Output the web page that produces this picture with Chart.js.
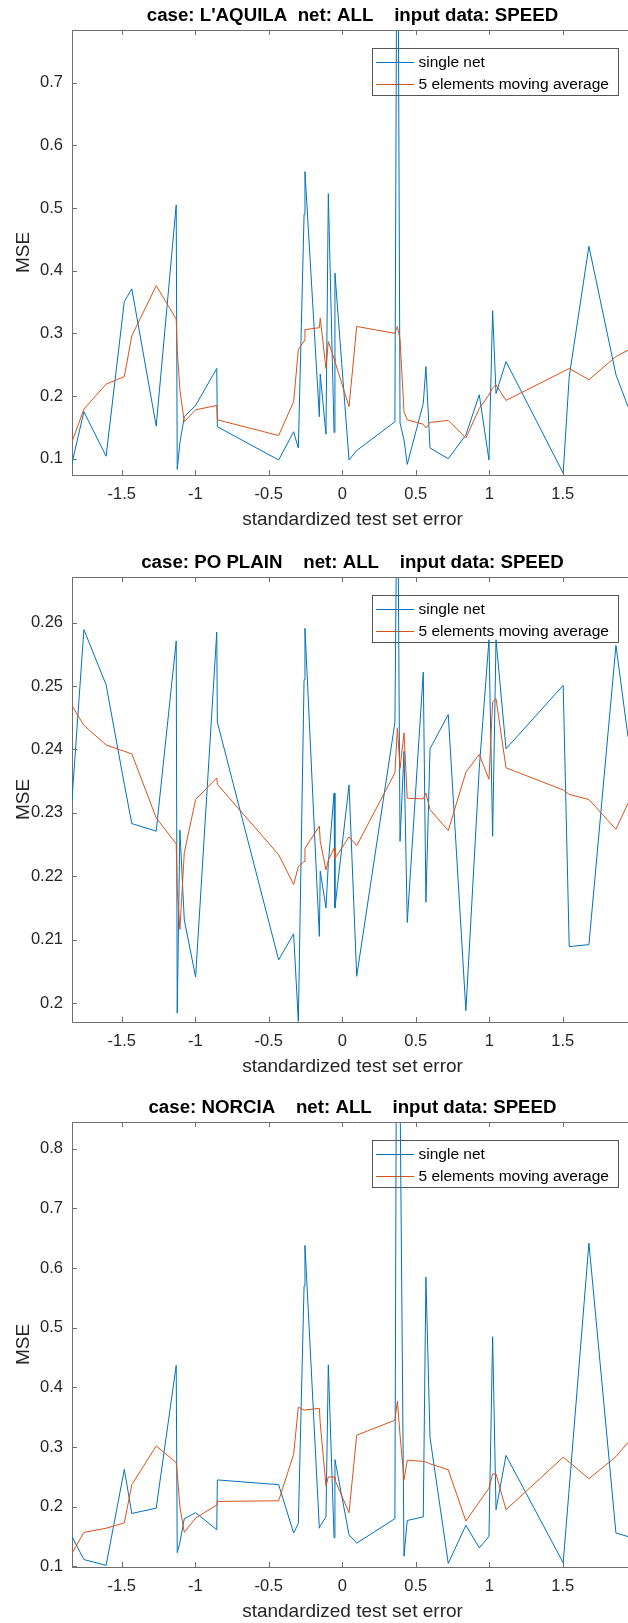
<!DOCTYPE html>
<html>
<head>
<meta charset="utf-8">
<script src="https://cdn.jsdelivr.net/npm/chart.js@4.4.1/dist/chart.umd.min.js"></script>
<style>
  html, body { margin: 0; padding: 0; background: #fff; overflow: hidden; }
  body { width: 628px; height: 1623px; position: relative; }
  .panel { position: absolute; left: 0; }
  canvas { display: block; }
</style>
</head>
<body>
<div class="panel" style="top:0px"><canvas id="aquilaChart" width="633" height="545"></canvas></div>
<div class="panel" style="top:547px"><canvas id="poChart" width="633" height="545"></canvas></div>
<div class="panel" style="top:1092px"><canvas id="norciaChart" width="633" height="545"></canvas></div>
<script>
// standardized test set error (shared x for all three cases)
const errX = [-1.839, -1.758, -1.607, -1.483, -1.432, -1.266, -1.13, -1.123, -1.105, -1.075,
              -0.998, -0.854, -0.85, -0.433, -0.331, -0.299, -0.26, -0.254, -0.156, -0.15,
              -0.111, -0.095, -0.056, -0.05, 0.046, 0.098, 0.358, 0.375, 0.393, 0.42,
              0.442, 0.551, 0.569, 0.597, 0.721, 0.841, 0.932, 0.998, 1.023, 1.046,
              1.114, 1.503, 1.544, 1.678, 1.862, 1.944];

const aquilaNet = [0.093, 0.175, 0.104, 0.351, 0.371, 0.152, 0.505, 0.083, 0.125, 0.167,
                   0.185, 0.244, 0.151, 0.098, 0.143, 0.117, 0.49, 0.558, 0.167, 0.235,
                   0.139, 0.523, 0.142, 0.396, 0.098, 0.113, 0.159, 1.2, 0.157, 0.13,
                   0.091, 0.188, 0.247, 0.117, 0.100, 0.138, 0.202, 0.098, 0.336, 0.204,
                   0.255, 0.077, 0.231, 0.439, 0.234, 0.183];
const aquilaAvg = [0.127, 0.179, 0.219, 0.231, 0.296, 0.376, 0.323, 0.274, 0.21, 0.159,
                   0.178, 0.185, 0.162, 0.137, 0.191, 0.274, 0.288, 0.306, 0.309, 0.324,
                   0.244, 0.287, 0.260, 0.255, 0.183, 0.311, 0.300, 0.311, 0.29, 0.175,
                   0.162, 0.155, 0.149, 0.158, 0.161, 0.133, 0.18, 0.202, 0.213, 0.218,
                   0.193, 0.239, 0.244, 0.226, 0.263, 0.273];

const poNet = [0.2321, 0.2589, 0.2502, 0.2345, 0.2283, 0.2271, 0.2571, 0.1984, 0.2273, 0.2131,
               0.2041, 0.2585, 0.2443, 0.2068, 0.2109, 0.1971, 0.251, 0.2591, 0.2105, 0.2208,
               0.215, 0.222, 0.2331, 0.215, 0.2344, 0.2042, 0.2442, 0.29, 0.2255, 0.2397,
               0.2127, 0.2522, 0.2159, 0.2401, 0.2455, 0.1988, 0.237, 0.2573, 0.2263, 0.2573,
               0.2401, 0.2501, 0.2089, 0.2092, 0.2564, 0.242];
const poAvg = [0.2469, 0.2438, 0.2407, 0.2397, 0.2393, 0.2292, 0.2251, 0.218, 0.2116, 0.2237,
               0.2321, 0.2355, 0.2345, 0.2234, 0.2187, 0.2215, 0.2223, 0.2244, 0.2279, 0.2255,
               0.221, 0.2225, 0.2244, 0.2228, 0.2262, 0.2248, 0.2363, 0.2434, 0.237, 0.2426,
               0.2323, 0.2322, 0.2331, 0.2305, 0.2272, 0.2364, 0.2392, 0.2353, 0.2475, 0.248,
               0.2371, 0.2336, 0.2329, 0.2321, 0.2274, 0.2315];

const norciaNet = [0.150, 0.1115, 0.1017, 0.2626, 0.1888, 0.1976, 0.437, 0.123, 0.14, 0.180,
                   0.19, 0.1615, 0.245, 0.237, 0.156, 0.172, 0.57, 0.638, 0.164, 0.168,
                   0.183, 0.438, 0.148, 0.279, 0.153, 0.139, 0.18, 1.5, 0.9, 0.117,
                   0.177, 0.183, 0.585, 0.316, 0.105, 0.169, 0.131, 0.150, 0.485, 0.195,
                   0.286, 0.106, 0.231, 0.642, 0.156, 0.150];
const norciaAvg = [0.122, 0.157, 0.164, 0.173, 0.237, 0.302, 0.274, 0.256, 0.2, 0.157,
                   0.181, 0.203, 0.209, 0.210, 0.288, 0.367, 0.362, 0.362, 0.365, 0.34,
                   0.235, 0.25, 0.25, 0.245, 0.19, 0.32, 0.345, 0.377, 0.32, 0.245,
                   0.278, 0.276, 0.275, 0.272, 0.262, 0.176, 0.208, 0.231, 0.255, 0.255,
                   0.195, 0.283, 0.275, 0.247, 0.284, 0.308];

const xTicks = [-1.5, -1, -0.5, 0, 0.5, 1, 1.5];
const aquilaYTicks = [0.1, 0.2, 0.3, 0.4, 0.5, 0.6, 0.7];
const poYTicks = [0.2, 0.21, 0.22, 0.23, 0.24, 0.25, 0.26];
const norciaYTicks = [0.1, 0.2, 0.3, 0.4, 0.5, 0.6, 0.7, 0.8];

const seriesLabels = ['single net', '5 elements moving average'];

const FONT = "'Liberation Sans', Arial, Helvetica, sans-serif";
const AXIS_COLOR = '#6f6f6f';
const TEXT_COLOR = '#262626';

// matlab-like box: top edge, inward ticks, title and boxed legend
const framePlugin = {
    id: 'frame',
    beforeDatasetsDraw(chart) {
        const ctx = chart.ctx;
        const area = chart.chartArea;
        const w = 246, h = 47;
        const left = Math.round(area.right - 14.7 - w);
        const top = Math.round(area.top + 17.7);

        ctx.save();
        ctx.fillStyle = '#fff';
        ctx.fillRect(left, top, w, h);
        ctx.strokeStyle = '#555';
        ctx.lineWidth = 1;
        ctx.strokeRect(left + 0.5, top + 0.5, w, h);

        ctx.font = '15.5px ' + FONT;
        ctx.textAlign = 'left';
        ctx.textBaseline = 'middle';
        chart.data.datasets.forEach(function (ds, i) {
            const y = Math.round(top + 14 + i * 21.6) + 0.5;
            ctx.strokeStyle = ds.borderColor;
            ctx.beginPath();
            ctx.moveTo(left + 4, y);
            ctx.lineTo(left + 42, y);
            ctx.stroke();
            ctx.fillStyle = '#000';
            ctx.fillText(ds.label, left + 46.5, y);
        });
        ctx.restore();
    },
    afterDraw(chart, args, opts) {
        const ctx = chart.ctx;
        const area = chart.chartArea;
        const xs = chart.scales.x;
        const ys = chart.scales.y;

        ctx.save();
        ctx.strokeStyle = AXIS_COLOR;
        ctx.lineWidth = 1;
        ctx.beginPath();
        ctx.moveTo(area.left, area.top + 0.5);
        ctx.lineTo(area.right, area.top + 0.5);
        xs.ticks.forEach(function (t) {
            const px = Math.round(xs.getPixelForValue(t.value)) + 0.5;
            ctx.moveTo(px, area.bottom);
            ctx.lineTo(px, area.bottom - 5);
            ctx.moveTo(px, area.top);
            ctx.lineTo(px, area.top + 5);
        });
        ys.ticks.forEach(function (t) {
            const py = Math.round(ys.getPixelForValue(t.value)) + 0.5;
            ctx.moveTo(area.left, py);
            ctx.lineTo(area.left + 5, py);
        });
        ctx.stroke();

        ctx.fillStyle = '#000';
        ctx.font = 'bold 18.7px ' + FONT;
        ctx.textAlign = 'center';
        ctx.textBaseline = 'middle';
        ctx.fillText(opts.title, (area.left + area.right) / 2, area.top - 14);
        ctx.restore();
    }
};

function makeChart(canvasId, title, netValues, avgValues, yMin, yMax, yTicks) {
    const ctx = document.getElementById(canvasId).getContext('2d');
    return new Chart(ctx, {
        type: 'line',
        data: {
            datasets: [{
                label: seriesLabels[0],
                data: errX.map((x, i) => ({ x: x, y: netValues[i] })),
                borderColor: '#0072BD',
                borderWidth: 1,
                pointRadius: 0,
                tension: 0,
                fill: false,
                order: 1
            }, {
                label: seriesLabels[1],
                data: errX.map((x, i) => ({ x: x, y: avgValues[i] })),
                borderColor: '#D95319',
                borderWidth: 1,
                pointRadius: 0,
                tension: 0,
                fill: false,
                order: 0
            }]
        },
        options: {
            responsive: false,
            animation: false,
            devicePixelRatio: 1,
            layout: { padding: { top: 30, left: 0, right: 0, bottom: 0 } },
            plugins: {
                legend: { display: false },
                tooltip: { enabled: false },
                frame: { title: title }
            },
            scales: {
                x: {
                    type: 'linear',
                    min: -1.839,
                    max: 1.978,
                    grid: { display: false, drawTicks: false },
                    border: { display: true, color: AXIS_COLOR, width: 1 },
                    ticks: {
                        color: TEXT_COLOR,
                        font: { family: FONT, size: 16.5 },
                        padding: 10,
                        maxRotation: 0,
                        callback: (v) => String(v)
                    },
                    title: {
                        display: true,
                        text: 'standardized test set error',
                        color: TEXT_COLOR,
                        font: { family: FONT, size: 19 },
                        padding: { top: 0, bottom: 13.6 }
                    },
                    afterBuildTicks: (scale) => { scale.ticks = xTicks.map(v => ({ value: v })); },
                    afterFit: (scale) => { scale.height = 70; }
                },
                y: {
                    min: yMin,
                    max: yMax,
                    grid: { display: false, drawTicks: false },
                    border: { display: true, color: AXIS_COLOR, width: 1 },
                    ticks: {
                        color: TEXT_COLOR,
                        font: { family: FONT, size: 16.5 },
                        padding: 9,
                        callback: (v) => String(v)
                    },
                    title: {
                        display: true,
                        text: 'MSE',
                        color: TEXT_COLOR,
                        font: { family: FONT, size: 19 },
                        padding: { top: 11.9, bottom: 0 }
                    },
                    afterBuildTicks: (scale) => { scale.ticks = yTicks.map(v => ({ value: v })); },
                    afterFit: (scale) => { scale.width = 72; }
                }
            }
        },
        plugins: [framePlugin]
    });
}

makeChart('aquilaChart', "case: L'AQUILA  net: ALL    input data: SPEED", aquilaNet, aquilaAvg, 0.074, 0.784, aquilaYTicks);
makeChart('poChart', 'case: PO PLAIN    net: ALL    input data: SPEED', poNet, poAvg, 0.197, 0.2672, poYTicks);
makeChart('norciaChart', 'case: NORCIA    net: ALL    input data: SPEED', norciaNet, norciaAvg, 0.099, 0.845, norciaYTicks);
</script>
</body>
</html>
